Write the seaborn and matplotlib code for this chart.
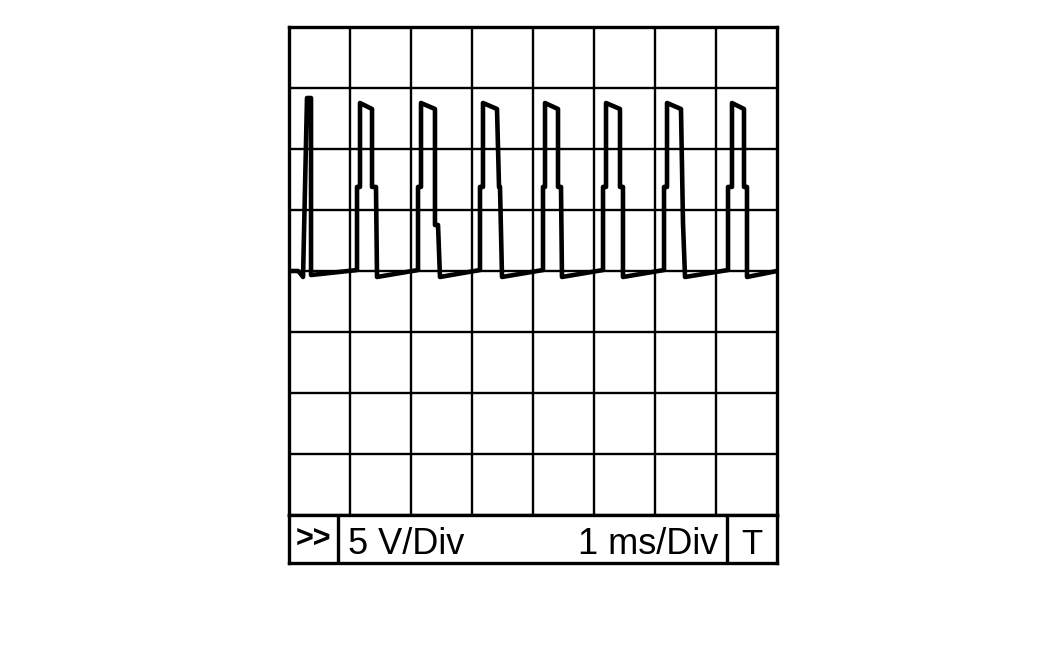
import matplotlib
matplotlib.use("Agg")
import matplotlib.pyplot as plt
import seaborn as sns
import numpy as np
import pandas as pd

# ---- data (time in ms, voltage in V) ----
time_ms = [0.000, 0.148, 0.180, 0.230, 0.295, 0.361, 0.361,
           1.115, 1.115, 1.164, 1.164, 1.361, 1.361, 1.426, 1.443,
           2.115, 2.115, 2.164, 2.164, 2.393, 2.393, 2.443, 2.475,
           3.131, 3.131, 3.180, 3.180, 3.410, 3.443, 3.459, 3.492,
           4.164, 4.164, 4.197, 4.197, 4.410, 4.410, 4.459, 4.475,
           5.148, 5.148, 5.197, 5.197, 5.426, 5.426, 5.475, 5.475,
           6.148, 6.148, 6.197, 6.197, 6.426, 6.459, 6.492,
           7.197, 7.197, 7.262, 7.262, 7.459, 7.459, 7.508, 7.508,
           8.000]
volts = [0.00, 0.00, -0.16, -0.49, 14.18, 14.18, -0.33,
         0.08, 6.89, 6.89, 13.77, 13.28, 6.89, 6.89, -0.49,
         0.08, 6.89, 6.89, 13.77, 13.28, 3.77, 3.77, -0.49,
         0.08, 6.89, 6.89, 13.77, 13.28, 6.89, 6.89, -0.49,
         0.08, 6.89, 6.89, 13.77, 13.28, 6.89, 6.89, -0.49,
         0.08, 6.89, 6.89, 13.77, 13.28, 6.89, 6.89, -0.49,
         0.08, 6.89, 6.89, 13.77, 13.28, 3.93, -0.49,
         0.08, 6.89, 6.89, 13.77, 13.28, 6.89, 6.89, -0.49,
         0.00]

volts_per_div = 5
ms_per_div = 1
n_div = 8
label_volts = "5 V/Div"
label_time = "1 ms/Div"
label_left = ">>"
label_right = "T"

df = pd.DataFrame({"t": time_ms, "v": volts})

sns.set_style("white")
plt.rcParams["font.family"] = ["Liberation Sans", "DejaVu Sans"]
plt.rcParams["text.color"] = "black"

W, H = 1063, 661
fig = plt.figure(figsize=(W / 100, H / 100), dpi=100)
fig.patch.set_facecolor("white")

# main grid axes
ax = fig.add_axes([289 / W, (H - 515) / H, 488 / W, 488 / H])
ax.set_xlim(0, n_div * ms_per_div)
ax.set_ylim(-4 * volts_per_div, 4 * volts_per_div)
for k in range(1, n_div):
    ax.axvline(k * ms_per_div, color="black", lw=1.7, zorder=1)
for k in range(-3, 4):
    ax.axhline(k * volts_per_div, color="black", lw=1.7, zorder=1)
sns.lineplot(data=df, x="t", y="v", estimator=None, sort=False,
             color="black", lw=3.3, ax=ax, zorder=3)
ax.set_xticks([])
ax.set_yticks([])
ax.set_xlabel("")
ax.set_ylabel("")
for s in ax.spines.values():
    s.set_visible(True)
    s.set_color("black")
    s.set_linewidth(2.4)

# status bar
bar = fig.add_axes([289 / W, (H - 563) / H, 488 / W, 48 / H])
bar.set_xlim(0, 488)
bar.set_ylim(0, 48)
bar.set_xticks([])
bar.set_yticks([])
for s in bar.spines.values():
    s.set_visible(True)
    s.set_color("black")
    s.set_linewidth(2.4)
bar.axvline(49, color="black", lw=2.4)
bar.axvline(438, color="black", lw=2.4)
bar.text(24.5, 15, label_left, ha="center", va="baseline", fontsize=22,
         fontweight="bold", color="black")
bar.text(59, 8.5, label_volts, ha="left", va="baseline", fontsize=26,
         color="black")
bar.text(429, 8.5, label_time, ha="right", va="baseline", fontsize=26,
         color="black")
bar.text(463, 8.5, label_right, ha="center", va="baseline", fontsize=25,
         color="black")

fig.savefig("out.png", dpi=100, facecolor="white")
